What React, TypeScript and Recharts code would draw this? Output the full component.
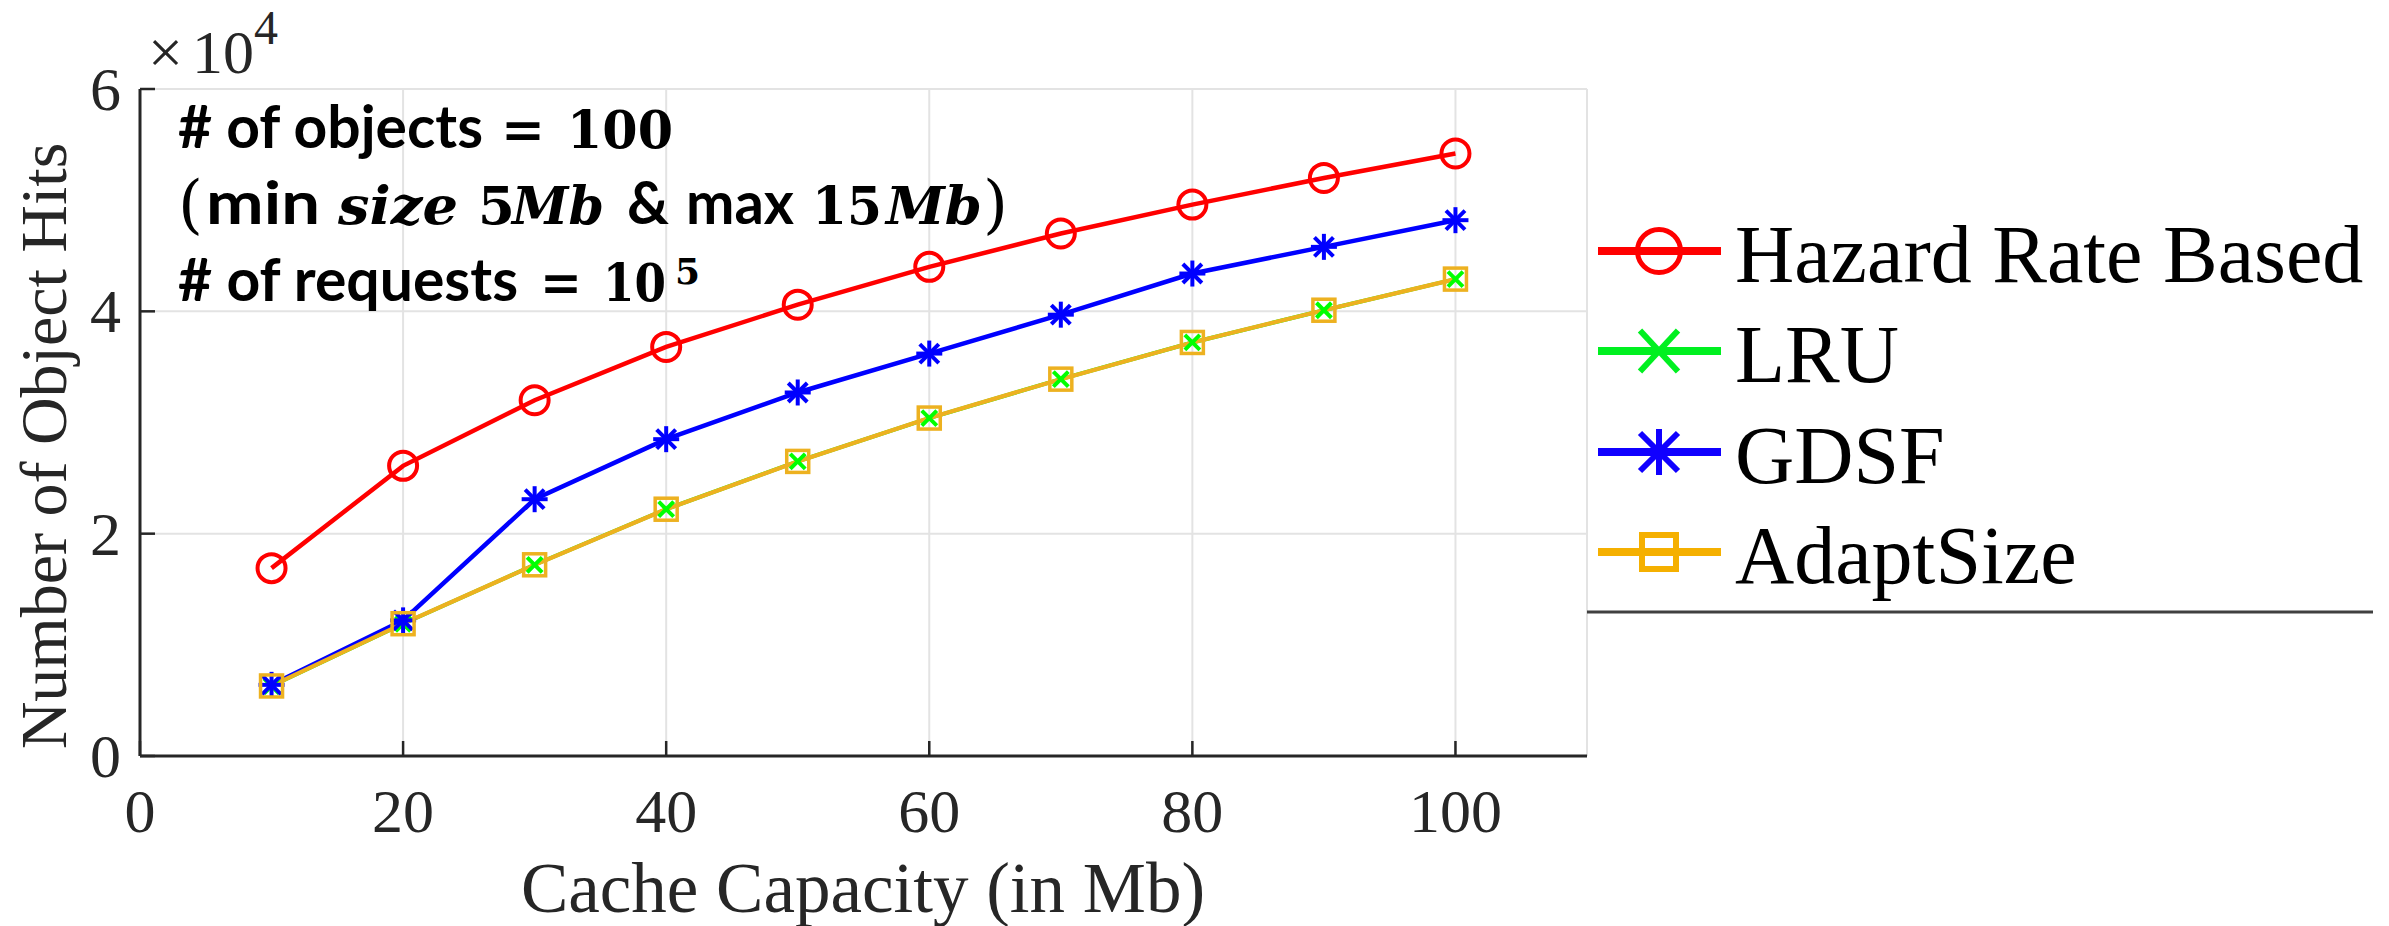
import React from 'react';
import { LineChart, Line, XAxis, YAxis, CartesianGrid, Legend, Customized } from 'recharts';

const capacities = [10, 20, 30, 40, 50, 60, 70, 80, 90, 100];
const hazardHits = [16900, 26100, 32000, 36800, 40600, 44000, 47000, 49600, 52000, 54200];
const lruHits = [6300, 11900, 17200, 22200, 26500, 30400, 33900, 37200, 40100, 42900];
const gdsfHits = [6400, 12200, 23100, 28500, 32700, 36200, 39700, 43400, 45800, 48200];
const adaptSizeHits = [6300, 11900, 17200, 22200, 26500, 30400, 33900, 37200, 40100, 42900];
const xTicks = [0, 20, 40, 60, 80, 100];
const yTicks = [0, 20000, 40000, 60000];

const data = capacities.map((c, i) => ({
  cap: c,
  hazard: hazardHits[i],
  lru: lruHits[i],
  gdsf: gdsfHits[i],
  adapt: adaptSizeHits[i],
}));

type Kind = 'circle' | 'x' | 'star' | 'square';

const series: { key: string; name: string; color: string; legendColor: string; kind: Kind; width: number }[] = [
  { key: 'hazard', name: 'Hazard Rate Based', color: '#FF0000', legendColor: '#FF0000', kind: 'circle', width: 4.5 },
  { key: 'lru', name: 'LRU', color: '#00FF00', legendColor: '#00F020', kind: 'x', width: 4 },
  { key: 'gdsf', name: 'GDSF', color: '#0000FF', legendColor: '#1000FF', kind: 'star', width: 4.5 },
  { key: 'adapt', name: 'AdaptSize', color: '#EDB120', legendColor: '#F5B000', kind: 'square', width: 4.2 },
];

const SERIF = "'Liberation Serif', 'Times New Roman', serif";
const SANS = "Lato, 'Open Sans', sans-serif";
const MATH = "'DejaVu Serif', serif";
const AXIS = '#262626';

function Marker({ kind, cx, cy, color, big }: { kind: Kind; cx: number; cy: number; color: string; big?: boolean }) {
  if (cx == null || cy == null) return null;
  if (kind === 'circle') {
    return <circle cx={cx} cy={cy} r={big ? 21.5 : 14} fill="none" stroke={color} strokeWidth={big ? 5 : 4} />;
  }
  if (kind === 'x') {
    const h = big ? 19 : 7.5;
    const hy = big ? 20.5 : 7.5;
    return (
      <g stroke={color} strokeWidth={big ? 6 : 4}>
        <line x1={cx - h} y1={cy - hy} x2={cx + h} y2={cy + hy} />
        <line x1={cx - h} y1={cy + hy} x2={cx + h} y2={cy - hy} />
      </g>
    );
  }
  if (kind === 'star') {
    const h = big ? 23 : 13;
    const d = big ? 19 : 9.5;
    return (
      <g stroke={color} strokeWidth={big ? 6 : 4}>
        <line x1={cx} y1={cy - h} x2={cx} y2={cy + h} />
        <line x1={cx - h} y1={cy} x2={cx + h} y2={cy} />
        <line x1={cx - d} y1={cy - d} x2={cx + d} y2={cy + d} />
        <line x1={cx - d} y1={cy + d} x2={cx + d} y2={cy - d} />
      </g>
    );
  }
  const side = big ? 34 : 22;
  return (
    <rect x={cx - side / 2} y={cy - side / 2} width={side} height={side} fill="none" stroke={color} strokeWidth={big ? 6 : 3.5} />
  );
}

const XTick = (props: any) => {
  const { x, y, payload } = props;
  return (
    <g>
      <line x1={x} x2={x} y1={y} y2={y - 15} stroke={AXIS} strokeWidth={2.5} />
      <text x={x} y={y + 76} textAnchor="middle" fontFamily={SERIF} fontSize={62} fill={AXIS}>
        {payload.value}
      </text>
    </g>
  );
};

const YTick = (props: any) => {
  const { x, y, payload } = props;
  return (
    <g>
      <line x1={x} x2={x + 15} y1={y} y2={y} stroke={AXIS} strokeWidth={2.5} />
      <text x={x - 19} y={y + 21} textAnchor="end" fontFamily={SERIF} fontSize={62} fill={AXIS}>
        {payload.value / 10000}
      </text>
    </g>
  );
};

const Annotations = () => (
  <g>
    {/* axis labels */}
    <text x={863} y={912} textAnchor="middle" fontFamily={SERIF} fontSize={71} fill={AXIS}>
      Cache Capacity (in Mb)
    </text>
    <text transform="translate(66,446) rotate(-90)" textAnchor="middle" fontFamily={SERIF} fontSize={66} fill={AXIS}>
      Number of Object Hits
    </text>
    {/* exponent */}
    <text x={148} y={73} fontFamily={SERIF} fontSize={62} fill={AXIS}>×</text>
    <text x={192} y={73} fontFamily={SERIF} fontSize={62} fill={AXIS}>10</text>
    <text x={254} y={44} fontFamily={SERIF} fontSize={48} fill={AXIS}>4</text>
    {/* annotation line 1 */}
    <g fill="#000" fontWeight={700}>
      <text x={178} y={148} fontFamily={SANS} fontSize={60} textLength={305} lengthAdjust="spacingAndGlyphs"># of objects</text>
      <text x={501} y={148} fontFamily={MATH} fontSize={52} textLength={44} lengthAdjust="spacingAndGlyphs">=</text>
      <text x={567} y={148} fontFamily={MATH} fontSize={53} textLength={106} lengthAdjust="spacingAndGlyphs">100</text>
      {/* line 2 */}
      <text x={178} y={226} fontFamily={MATH} fontWeight={400} fontSize={64}>(</text>
      <text x={206} y={224} fontFamily={SANS} fontSize={60} textLength={114} lengthAdjust="spacingAndGlyphs">min</text>
      <text x={338} y={224} fontFamily={MATH} fontStyle="italic" fontSize={53} textLength={120} lengthAdjust="spacingAndGlyphs">size</text>
      <text x={478} y={224} fontFamily={MATH} fontSize={53}>5</text>
      <text x={512} y={224} fontFamily={MATH} fontStyle="italic" fontSize={53} textLength={92} lengthAdjust="spacingAndGlyphs">Mb</text>
      <text x={627} y={224} fontFamily={SANS} fontSize={60} textLength={42} lengthAdjust="spacingAndGlyphs">&amp;</text>
      <text x={686} y={224} fontFamily={SANS} fontSize={60} textLength={108} lengthAdjust="spacingAndGlyphs">max</text>
      <text x={812} y={224} fontFamily={MATH} fontSize={53} textLength={70} lengthAdjust="spacingAndGlyphs">15</text>
      <text x={886} y={224} fontFamily={MATH} fontStyle="italic" fontSize={53} textLength={96} lengthAdjust="spacingAndGlyphs">Mb</text>
      <text x={983} y={226} fontFamily={MATH} fontWeight={400} fontSize={64}>)</text>
      {/* line 3 */}
      <text x={178} y={301} fontFamily={SANS} fontSize={60} textLength={340} lengthAdjust="spacingAndGlyphs"># of requests</text>
      <text x={540} y={301} fontFamily={MATH} fontSize={52} textLength={42} lengthAdjust="spacingAndGlyphs">=</text>
      <text x={603} y={301} fontFamily={MATH} fontSize={53} textLength={63} lengthAdjust="spacingAndGlyphs">10</text>
      <text x={675} y={284} fontFamily={MATH} fontSize={36}>5</text>
    </g>
  </g>
);

const legendRows = [51, 151, 252, 352];

const renderLegend = () => (
  <svg width={802} height={430} style={{ display: 'block', overflow: 'visible' }}>
    {series.map((s, i) => {
      const cy = legendRows[i];
      return (
        <g key={s.key}>
          <line x1={11} x2={134} y1={cy} y2={cy} stroke={s.legendColor} strokeWidth={8} />
          <Marker kind={s.kind} cx={72} cy={cy} color={s.legendColor} big />
          <text x={148} y={cy + 31} fontFamily={SERIF} fontSize={82} fill="#000">
            {s.name}
          </text>
        </g>
      );
    })}
    <line x1={0} x2={786} y1={412} y2={412} stroke="#404040" strokeWidth={3} />
  </svg>
);

export default function App() {
  return (
    <div style={{ position: 'absolute', left: 0, top: 0, width: 2389, height: 926, background: '#fff' }}>
      <LineChart width={2389} height={926} data={data} margin={{ top: 89, right: 802, bottom: 110, left: 80 }}>
        <CartesianGrid stroke="#e3e3e3" strokeWidth={2} />
        <XAxis
          dataKey="cap"
          type="number"
          domain={[0, 110]}
          ticks={xTicks}
          interval={0}
          height={60}
          tickSize={0}
          tickMargin={0}
          tickLine={false}
          axisLine={{ stroke: AXIS, strokeWidth: 3 }}
          tick={XTick}
        />
        <YAxis
          type="number"
          domain={[0, 60000]}
          ticks={yTicks}
          interval={0}
          width={60}
          tickSize={0}
          tickMargin={0}
          tickLine={false}
          axisLine={{ stroke: AXIS, strokeWidth: 3 }}
          tick={YTick}
        />
        {series.map((s) => (
          <Line
            key={s.key}
            type="linear"
            dataKey={s.key}
            name={s.name}
            stroke={s.color}
            strokeWidth={s.width}
            isAnimationActive={false}
            activeDot={false}
            dot={(p: any) => <Marker key={`${s.key}-${p.index}`} kind={s.kind} cx={p.cx} cy={p.cy} color={s.color} />}
          />
        ))}
        <Legend
          layout="vertical"
          align="center"
          verticalAlign="middle"
          content={renderLegend}
          wrapperStyle={{ left: 1587, top: 200, width: 802, height: 430 }}
        />
        <Customized component={<Annotations />} />
      </LineChart>
    </div>
  );
}
